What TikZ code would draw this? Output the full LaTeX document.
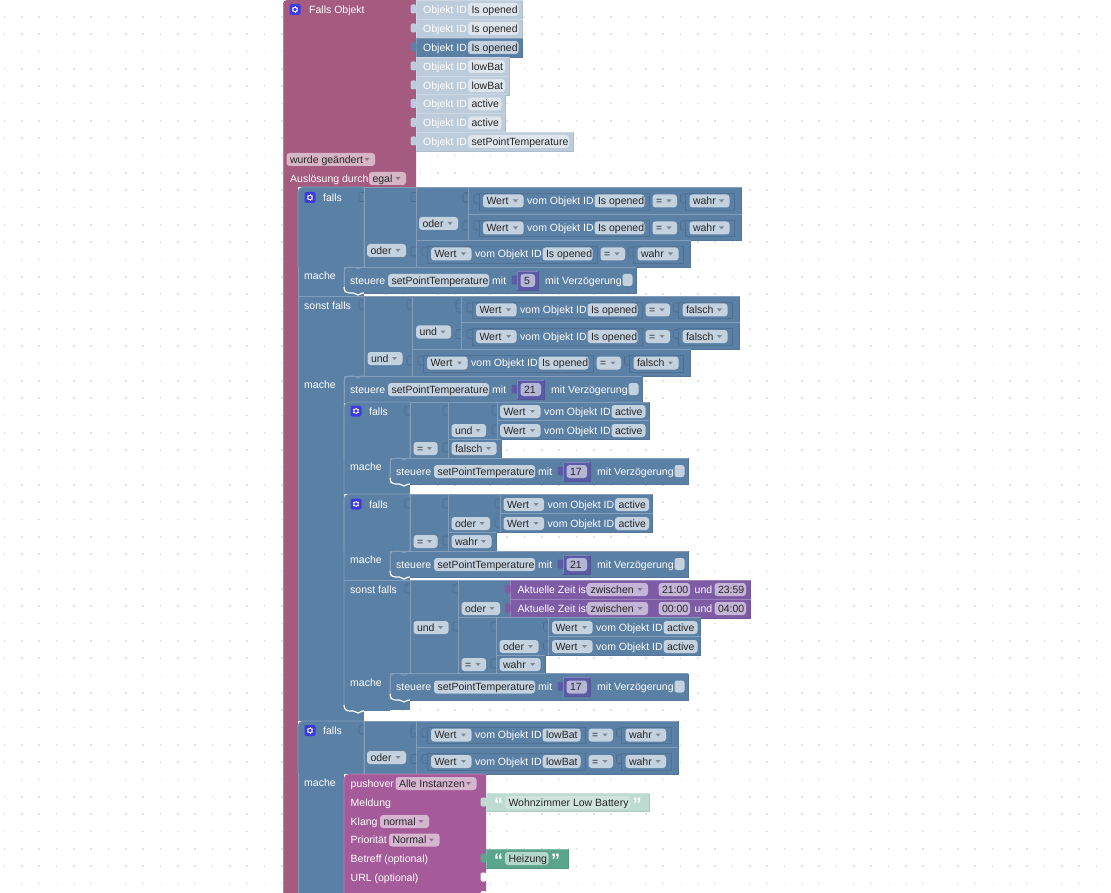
\documentclass[tikz,border=0pt]{standalone}
\usepackage{fontspec}
\setmainfont{Liberation Sans}
\usetikzlibrary{calc}
\definecolor{c_event}{HTML}{A55B80}
\definecolor{c_logic}{HTML}{5B80A5}
\definecolor{c_shadow}{HTML}{BDCCDB}
\definecolor{c_field}{HTML}{C4D1DF}
\definecolor{c_num}{HTML}{5B5BA5}
\definecolor{c_time}{HTML}{7D5BA5}
\definecolor{c_push}{HTML}{A55B99}
\definecolor{c_text}{HTML}{5BA58C}
\definecolor{c_gear}{HTML}{3B3BE0}
\newcounter{nn}
\tikzset{
    block_text/.style={
        text=white,
        anchor=base west,
        inner sep=0pt
    },
    field_text/.style={
        text=black!85,
        anchor=base west,
        inner sep=0pt
    },
    tab_line/.style={
        draw=c_logic!86!black,
        line width=0.6pt,
        rounded corners=2pt
    },
    outline/.style={
        draw=c_logic!88!black,
        line width=0.5pt
    },
}
% block with a light top-left edge and a dark bottom-right edge
\newcommand{\blockrect}[5][c_logic]{
    \fill[#1] (#2,#3) rectangle (#4,#5);
    \draw[#1!92!black, line width=0.5pt] (#2,#5) -- (#4,#5) -- (#4,#3);
    \draw[#1!76!white, line width=0.7pt] (#2,#5) -- (#2,#3) -- (#4,#3);
}
\newcommand{\hatrect}[4]{
    \fill[c_logic] (#1,#4) [rounded corners=5pt] -- (#1,#2) [sharp corners] -- (#3,#2) -- (#3,#4) -- cycle;
    \draw[c_logic!76!white, line width=0.7pt] (#1,#4) [rounded corners=5pt] -- (#1,#2) [sharp corners] -- (#3,#2) -- (#3,#4);
}
\newcommand{\lbl}[4][block_text]{
    \stepcounter{nn}
    \node[#1] (n\arabic{nn}) at ({#2},{#3+3.9}) {#4};
}
\newcommand{\fld}[5][c_field]{
    \fill[#1, rounded corners=3pt] ({#2},{#4-6.5}) rectangle ({#3},{#4+6.5});
    \lbl[field_text]{#2+3.3}{#4}{#5}
}
\newcommand{\fldd}[5][c_field]{
    \fld[#1]{#2}{#3}{#4}{#5}
    \fill[#1!65!black] ({#3-10.5},{#4-1.5}) -- ({#3-5.5},{#4-1.5}) -- ({#3-8},{#4+1.5}) -- cycle;
}
\newcommand{\intab}[2]{
    \draw[tab_line] ({#1},{#2-5}) -- ({#1-5},{#2-5}) -- ({#1-5},{#2+4}) -- ({#1},{#2+4});
}
\newcommand{\fulltab}[3][c_logic]{
    \fill[#1, rounded corners=2pt] ({#2+0.5},{#3-5}) -- ({#2-5.5},{#3-5}) -- ({#2-5.5},{#3+4}) -- ({#2+0.5},{#3+4}) -- cycle;
}
\newcommand{\wert}[4]{
    \fldd{#1}{#1+40.5}{#2}{Wert}
    \lbl{#1+44}{#2}{vom Objekt ID}
    \fld{#1+111.5}{#1+111.5+#4}{#2}{#3}
}
% x, top, bottom, id text, id width, value, value width
\newcommand{\cmprow}[7]{
    \pgfmathsetmacro{\eqx}{#1+134.5+#5}
    \pgfmathsetmacro{\valx}{\eqx+37}
    \pgfmathsetmacro{\valr}{\valx+#7}
    \pgfmathsetmacro{\rowr}{\valr+12}
    \pgfmathsetmacro{\rowc}{#2+14}
    \blockrect{#1}{#2}{\rowr}{#3}
    \draw[outline] ({#1+11},{#2+6}) rectangle ({\eqx-3},{#3-4});
    \draw[outline] ({\valx-4},{#2+6}) rectangle ({\valr+5},{#3-4});
    \intab{#1}{\rowc-2}
    \intab{#1+11}{\rowc-2}
    \intab{\valx-4}{\rowc-2}
    \wert{#1+15}{\rowc}{#4}{#5}
    \fldd{\eqx}{\eqx+24.5}{\rowc}{=}
    \fldd{\valx}{\valr}{\rowc}{#6}
}
\newcommand{\steuere}[5]{
    \pgfmathsetmacro{\rowc}{#2+13.5}
    \blockrect{#1}{#2}{#1+#5+271}{#3}
    \lbl{#1+6}{\rowc}{steuere}
    \fld{#1+44}{#1+145}{\rowc}{setPointTemperature}
    \lbl{#1+148}{\rowc}{mit}
    \fulltab[c_num]{#1+173}{\rowc}
    \blockrect[c_num]{#1+173}{#2+4}{#1+173+#5}{#2+23}
    \fld[c_num!45!white]{#1+176.5}{#1+170+#5}{\rowc}{#4}
    \lbl{#1+180+#5}{\rowc}{mit Verzögerung}
    \fill[c_field, rounded corners=2.5pt] ({#1+#5+257.5},{#2+7}) rectangle ({#1+#5+267.5},{#2+19});
}
% inner side of a statement input
\newcommand{\mouth}[3]{
    \draw[c_logic!76!white, line width=0.7pt] ({#1+20},#2) -- ({#1+18},#2) .. controls ({#1+16},#2) and ({#1+16},{#2+2}) .. ({#1+14},{#2+2}) .. controls ({#1+12},{#2+2}) and ({#1+12},#2) .. ({#1+9},#2) -- ({#1+6},#2) .. controls ({#1+2},#2) and (#1,{#2+2}) .. (#1,{#2+6}) -- (#1,{#3-6});
    \draw[white, line width=1.2pt] (#1,{#3-6}) .. controls (#1,{#3-2}) and ({#1+2},#3) .. ({#1+6},#3) -- ({#1+9},#3) .. controls ({#1+12},#3) and ({#1+12},{#3+2}) .. ({#1+14},{#3+2}) .. controls ({#1+16},{#3+2}) and ({#1+16},#3) .. ({#1+20},#3);
}
\newcommand{\gearicon}[2]{
    \fill[c_gear, rounded corners=2pt] ({#1-5.5},{#2-5.5}) rectangle ({#1+5.5},{#2+5.5});
    \draw[white, line width=0.9pt] (#1,#2) circle (2.2);
    \foreach \a in {30,90,...,330}
        \draw[white, line width=0.8pt] ($(#1,#2)+(\a:2.2)$) -- ($(#1,#2)+(\a:3.3)$);
}
\newcommand{\objid}[6]{
    \blockrect[#1]{416}{#2}{#3}{#2+19}
    \fulltab[#1]{416}{#2+9.5}
    \lbl[text=#4, block_text]{423}{#2+9.5}{Objekt ID}
    \fld[#5]{468}{#3-4}{#2+9.5}{#6}
}
\newcommand{\timerow}[3]{
    \blockrect[c_time]{510}{#1}{750.5}{#1+19}
    \fulltab[c_time]{510}{#1+9.5}
    \lbl{517.5}{#1+9.5}{Aktuelle Zeit ist}
    \fldd[c_time!45!white]{587}{648}{#1+9.5}{zwischen}
    \fld[c_time!45!white]{658.5}{690}{#1+9.5}{#2}
    \lbl{694.5}{#1+9.5}{und}
    \fld[c_time!45!white]{714.5}{746}{#1+9.5}{#3}
}
\begin{document}
\begin{tikzpicture}[x=1pt, y=-1pt, every node/.style={font=\fontsize{10.5}{12}\selectfont}]
    \clip (0,0) rectangle (1111,893);
    \fill[white] (0,0) rectangle (1111,893);
    \foreach \i in {0,...,64}
        \foreach \j in {0,...,52}
            \fill[black!12] ({3.7+17.33*\i},{-1.3+17.33*\j}) rectangle ++(1.7,1.7);

    % event block
    \fill[c_event] (283,893) [rounded corners=4pt] -- (283,0) [sharp corners] -- (416,0) -- (416,187) -- (298,187) -- (298,893) -- cycle;
    \draw[c_event!76!white, line width=0.7pt] (283,893) -- (283,4);
    \gearicon{295}{9.5}
    \lbl{309}{9.5}{Falls Objekt}
    \objid{c_shadow}{0}{522.5}{white!85!c_shadow}{white!50!c_shadow}{Is opened}
    \objid{c_shadow}{19}{522.5}{white!85!c_shadow}{white!50!c_shadow}{Is opened}
    \objid{c_logic}{38}{522.5}{white}{c_field}{Is opened}
    \objid{c_shadow}{57}{509}{white!85!c_shadow}{white!50!c_shadow}{lowBat}
    \objid{c_shadow}{76}{509}{white!85!c_shadow}{white!50!c_shadow}{lowBat}
    \objid{c_shadow}{94.5}{505.5}{white!85!c_shadow}{white!50!c_shadow}{active}
    \objid{c_shadow}{113.5}{505.5}{white!85!c_shadow}{white!50!c_shadow}{active}
    \objid{c_shadow}{132}{573}{white!85!c_shadow}{white!50!c_shadow}{setPointTemperature}
    \fldd[c_event!45!white]{286.5}{375}{159.5}{wurde geändert}
    \lbl{290}{178.5}{Auslösung durch}
    \fldd[c_event!45!white]{369}{406}{178.5}{egal}

    % first falls
    \fill[c_logic] (298,195) rectangle (344,721);
    \fill[c_logic] (298,293) rectangle (364,376);
    \fill[c_logic] (298,711) rectangle (364,721);
    \draw[c_logic!76!white, line width=0.7pt] (298,190) -- (298,721);
    \hatrect{298}{187}{364}{267}
    \gearicon{310}{197.5}
    \lbl{323}{197.5}{falls}
    \intab{364}{197.5}
    \blockrect{364}{187}{416}{267}
    \intab{416}{197.5}
    \blockrect{416}{187}{468}{240}
    \intab{468}{197.5}
    \cmprow{468}{187}{214}{Is opened}{50}{wahr}{40}
    \cmprow{468}{214}{240}{Is opened}{50}{wahr}{40}
    \cmprow{416}{240}{267}{Is opened}{50}{wahr}{41}
    \fldd{419}{458}{223.5}{oder}
    \fldd{367}{406}{250.5}{oder}
    \lbl{304}{275.5}{mache}
    \steuere{344}{267}{293}{5}{21}
    \mouth{344}{267}{293}

    \lbl{304}{305.5}{sonst falls}
    \draw[c_logic!76!white, line width=0.7pt] (298,296) -- (364,296);
    \intab{364}{305}
    \blockrect{364}{296}{412}{376}
    \intab{412}{305}
    \blockrect{412}{296}{461}{349}
    \intab{461}{305}
    \cmprow{461}{296}{322.5}{Is opened}{50}{falsch}{45}
    \cmprow{461}{322.5}{349}{Is opened}{50}{falsch}{45}
    \cmprow{412}{349}{376}{Is opened}{50}{falsch}{45}
    \fldd{416}{451}{332}{und}
    \fldd{367.5}{402.5}{358.5}{und}
    \lbl{304}{384.5}{mache}
    \steuere{344}{376}{402}{21}{27}

    % nested falls, first one
    \hatrect{344}{402}{410}{458}
    \fill[c_logic] (344,458) rectangle (390,494);
    \fill[c_logic] (390,484) rectangle (410,494);
    \gearicon{356}{411}
    \lbl{369}{411.5}{falls}
    \intab{410}{411}
    \blockrect{410}{402}{448}{458}
    \intab{448}{411}
    \blockrect{448}{402}{497}{439}
    \intab{497}{411}
    \blockrect{497}{402}{649}{420.5}
    \blockrect{497}{420.5}{649}{439}
    \intab{497}{430}
    \wert{500}{411.5}{active}{34}
    \wert{500}{430.5}{active}{34}
    \fldd{451.5}{486}{430.5}{und}
    \blockrect{448}{439}{501}{458}
    \intab{448}{448}
    \fldd{451.5}{496.5}{448.5}{falsch}
    \fldd{413.5}{437.5}{448.5}{=}
    \lbl{350}{466.5}{mache}
    \steuere{390}{458}{484}{17}{27}
    \mouth{390}{458}{484}

    % nested falls, second one
    \hatrect{344}{494}{410}{551}
    \fill[c_logic] (344,551) rectangle (390,711);
    \fill[c_logic] (390,577) rectangle (410,673);
    \fill[c_logic] (390,700) rectangle (410,710);
    \gearicon{356}{504}
    \lbl{369}{504.5}{falls}
    \intab{410}{504}
    \blockrect{410}{494}{448}{551}
    \intab{448}{504}
    \blockrect{448}{494}{500}{532}
    \intab{500}{504}
    \blockrect{500}{494}{652.5}{513.5}
    \blockrect{500}{513.5}{652.5}{532}
    \intab{500}{523}
    \wert{503.5}{504.5}{active}{34}
    \wert{503.5}{523.5}{active}{34}
    \fldd{451.5}{490}{523.5}{oder}
    \blockrect{448}{532}{496}{551}
    \intab{448}{541}
    \fldd{451.5}{491.5}{541.5}{wahr}
    \fldd{413.5}{437.5}{541.5}{=}
    \lbl{350}{559.5}{mache}
    \steuere{390}{551}{577}{21}{27}
    \mouth{390}{551}{577}

    \lbl{350}{590}{sonst falls}
    \draw[c_logic!76!white, line width=0.7pt] (344,580) -- (410,580);
    \intab{410}{589}
    \blockrect{410}{580}{458}{673.5}
    \intab{458}{589}
    \blockrect{458}{580}{510}{617.5}
    \timerow{580}{21:00}{23:59}
    \timerow{599}{00:00}{04:00}
    \fldd{461.5}{500}{608.5}{oder}
    \fldd{413.5}{448.5}{627.5}{und}
    \blockrect{458}{617.5}{496}{673.5}
    \intab{458}{627}
    \intab{496}{627}
    \blockrect{496}{617.5}{548.5}{655}
    \intab{548.5}{627}
    \blockrect{548.5}{617.5}{700.5}{636}
    \blockrect{548.5}{636}{700.5}{655}
    \intab{548.5}{646}
    \wert{552}{627.5}{active}{34}
    \wert{552}{646.5}{active}{34}
    \fldd{499.5}{538.5}{646.5}{oder}
    \blockrect{496}{655}{545}{673.5}
    \intab{496}{664}
    \fldd{461.5}{486}{664.5}{=}
    \fldd{499.5}{540.5}{664.5}{wahr}
    \lbl{350}{682.5}{mache}
    \steuere{390}{673.5}{700}{17}{27}
    \mouth{390}{673.5}{700}
    \mouth{344}{376}{711}

    % last falls
    \fill[c_logic] (298,774) rectangle (344,893);
    \hatrect{298}{721}{364}{774}
    \draw[c_logic!76!white, line width=0.7pt] (298,774) -- (298,893);
    \gearicon{310}{730.5}
    \lbl{323}{730.5}{falls}
    \intab{364}{730}
    \blockrect{364}{721}{416}{774}
    \intab{416}{730}
    \cmprow{416}{721}{747.5}{lowBat}{38}{wahr}{40.5}
    \cmprow{416}{747.5}{774}{lowBat}{38}{wahr}{40.5}
    \fldd{367}{406}{757.5}{oder}
    \lbl{304}{782.5}{mache}

    % pushover block
    \fill[c_push] (344,893) [rounded corners=5pt] -- (344,774) [sharp corners] -- (486,774) -- (486,893) -- cycle;
    \draw[c_push!76!white, line width=0.7pt] (344,893) [rounded corners=5pt] -- (344,774) [sharp corners] -- (486,774);
    \lbl{350.5}{783.5}{pushover}
    \fldd[c_push!45!white]{395.5}{476.5}{783.5}{Alle Instanzen}
    \lbl{350.5}{802.5}{Meldung}
    \lbl{350.5}{821.5}{Klang}
    \fldd[c_push!45!white]{380}{429}{821.5}{normal}
    \lbl{350.5}{840}{Priorität}
    \fldd[c_push!45!white]{389}{439.5}{840}{Normal}
    \lbl{350.5}{858.5}{Betreff (optional)}
    \lbl{350.5}{877.5}{URL (optional)}
    \fulltab[white]{486}{877.5}
    \fulltab[white]{486}{896}

    % text blocks
    \blockrect[c_text!40!white]{486}{793}{649.5}{811.5}
    \fulltab[c_text!40!white]{486}{802.5}
    \lbl[text=white!70!c_text, block_text, font=\fontsize{18}{18}\selectfont\bfseries]{494}{807}{“}
    \fld[white!70!c_text]{505}{630}{802.5}{Wohnzimmer Low Battery}
    \lbl[text=white!70!c_text, block_text, font=\fontsize{18}{18}\selectfont\bfseries]{632.5}{807}{”}
    \blockrect[c_text]{486}{849}{568}{868}
    \fulltab[c_text]{486}{858.5}
    \lbl[text=white!80!c_text, block_text, font=\fontsize{18}{18}\selectfont\bfseries]{494}{863}{“}
    \fld[c_text!45!white]{505}{548.5}{858.5}{Heizung}
    \lbl[text=white!80!c_text, block_text, font=\fontsize{18}{18}\selectfont\bfseries]{551}{863}{”}
\end{tikzpicture}
\end{document}
